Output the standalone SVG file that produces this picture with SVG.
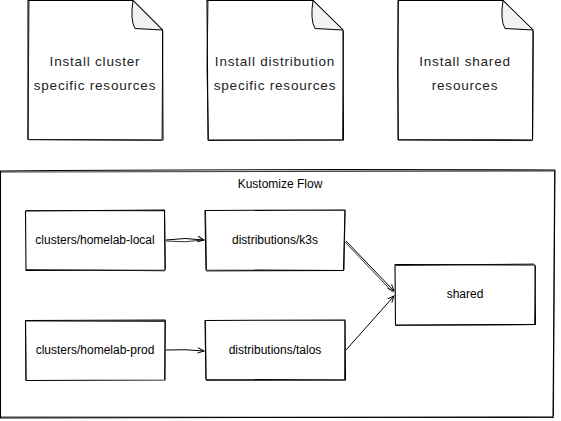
<svg xmlns="http://www.w3.org/2000/svg" width="561" height="421" viewBox="0 0 561 421">
<defs>
<style>
.sk{fill:#fff;stroke:#000;stroke-width:1.1;stroke-linejoin:round}
.sk2{fill:none;stroke:#000;stroke-width:0.8}
.fold{fill:#f2f2f2;stroke:#000;stroke-width:1}
.hand{font-family:"Liberation Sans","DejaVu Sans",sans-serif;font-size:13.5px;letter-spacing:0.8px;fill:#222;text-anchor:middle}
.lbl{font-family:"Liberation Sans",Arial,sans-serif;font-size:12px;fill:#000;text-anchor:middle}
.edge{fill:none;stroke:#000;stroke-width:1}
</style>
<marker id="arr" viewBox="0 0 10 10" refX="9" refY="5" markerWidth="8" markerHeight="8" orient="auto" markerUnits="userSpaceOnUse">
<path d="M1,1.5 L9,5 L1,8.5" fill="none" stroke="#000" stroke-width="1.2"/>
</marker>
<pattern id="hatch" width="3" height="3" patternUnits="userSpaceOnUse" patternTransform="rotate(45)">
<rect width="3" height="3" fill="#fff"/>
<line x1="0" y1="0" x2="0" y2="3" stroke="#ccc" stroke-width="1"/>
</pattern>
</defs>
<rect width="561" height="421" fill="#fff"/>

<g id="note-cluster">
<path class="sk" d="M28,0.5 L133,0.5 L162.5,30 L163,140 L28,139.5 Z"/>
<path class="sk2" d="M29,1 L28.5,70 L28,139 M29,139.7 L162,140.3 M162.8,31 L162,139"/>
<path class="fold" fill="url(#hatch)" d="M133,0.5 Q130,20 135,28.5 L162.5,30 Z"/>
<text class="hand" x="95" y="66">Install cluster</text>
<text class="hand" x="95" y="90">specific resources</text>
</g>

<g id="note-distribution">
<path class="sk" d="M207,0.5 L313,0.5 L343,30 L343.5,140 L208,140 Z"/>
<path class="sk2" d="M208,1 L207,70 L208.5,139 M208,140.5 L343,140 M343.5,31 L342.5,139"/>
<path class="fold" fill="url(#hatch)" d="M313,0.5 Q310,20 315,28.5 L343,30 Z"/>
<text class="hand" x="275" y="66">Install distribution</text>
<text class="hand" x="275" y="90">specific resources</text>
</g>

<g id="note-shared">
<path class="sk" d="M398,0.5 L503,0.5 L533,30 L532.5,140 L398,139.5 Z"/>
<path class="sk2" d="M398.5,1 L397.5,70 L398.5,139 M398,140.2 L532,140.6 M533.4,31 L532.6,139"/>
<path class="fold" fill="url(#hatch)" d="M503,0.5 Q500,20 505,28.5 L533,30 Z"/>
<text class="hand" x="465" y="66">Install shared</text>
<text class="hand" x="465" y="90">resources</text>
</g>

<g id="group-kustomize">
<path class="sk" d="M0.5,171 Q200,169 555,170 L553,417 L0.5,418 Z"/>
<path class="sk2" d="M1,172 L554,171 M554.5,171 L553.5,416 M554,417.5 L1,417"/>
<text class="lbl" x="280" y="188">Kustomize Flow</text>
</g>

<g id="node-homelab-local">
<path class="sk" d="M25.5,211 L164.5,210 L165,270 L26,270.5 Z"/>
<path class="sk2" d="M26,210.5 L165,210.8 M164.5,211 L165.5,269.5 M165,270.8 L26,269.5"/>
<text class="lbl" x="95" y="244">clusters/homelab-local</text>
</g>

<g id="node-k3s">
<path class="sk" d="M205,210.5 L345,210 L343.5,270.5 L206,270 Z"/>
<path class="sk2" d="M205.5,211 L206.5,269.5 M345,211 L344,270 M206,271 L344,270.5"/>
<text class="lbl" x="275" y="244">distributions/k3s</text>
</g>

<g id="node-homelab-prod">
<path class="sk" d="M25.5,320.5 L165,320 L165,380 L26,380.5 Z"/>
<path class="sk2" d="M26,321 L164.5,321.5 M165.5,320.5 L164.5,379.5 M25.5,321 L26,380"/>
<text class="lbl" x="95" y="354">clusters/homelab-prod</text>
</g>

<g id="node-talos">
<path class="sk" d="M205,320.5 L345,320 L345.5,380 L206,379.5 Z"/>
<path class="sk2" d="M205.5,321 L206,379 M206,380.5 L345,380 M345,321 L344.5,379"/>
<text class="lbl" x="275" y="354">distributions/talos</text>
</g>

<g id="node-shared">
<path class="sk" d="M395,264.5 L535,265 L535.5,324.5 L395.5,325 Z"/>
<path class="sk2" d="M396,265.5 L534,264 M535.5,266 L534.5,324 M395.5,325.5 L534,324.5"/>
<text class="lbl" x="465" y="298">shared</text>
</g>

<g id="connectors">
<path class="edge" d="M166,240 Q185,237 204,240" marker-end="url(#arr)"/>
<path class="sk2" d="M166,241 Q185,243 203,240"/>
<path class="edge" d="M166,350 Q185,349 204,351" marker-end="url(#arr)"/>
<path class="edge" d="M346,241 L394,291" marker-end="url(#arr)"/>
<path class="sk2" d="M345,242 L393,292.5"/>
<path class="edge" d="M346,350 L394,296" marker-end="url(#arr)"/>
</g>
</svg>
